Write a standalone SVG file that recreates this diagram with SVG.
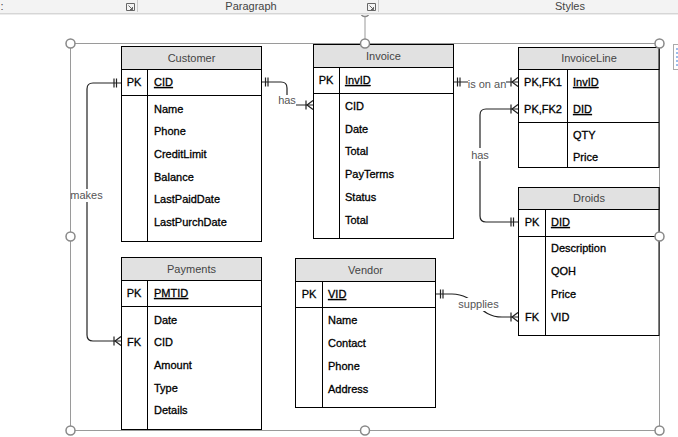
<svg xmlns="http://www.w3.org/2000/svg" width="678" height="437" viewBox="0 0 678 437">
<style>
.tb{fill:#fff;stroke:#000;stroke-width:1}
.hd{fill:#e1e1e1;stroke:#000;stroke-width:1}
.ln{stroke:#000;stroke-width:1;fill:none}
.ht{font-family:"Liberation Sans",Arial,sans-serif;font-size:11px;fill:#444;text-anchor:middle}
.ft{font-family:"Liberation Sans",Arial,sans-serif;font-size:11px;fill:#000;stroke:#000;stroke-width:0.3}
.kt{font-family:"Liberation Sans",Arial,sans-serif;font-size:11px;fill:#000;stroke:#000;stroke-width:0.3;text-anchor:middle}
.u{text-decoration:underline}
.cn{stroke:#222;stroke-width:1.2;fill:none}
.lb{font-family:"Liberation Sans",Arial,sans-serif;font-size:11px;fill:#555;text-anchor:middle}
.lbg{fill:#fff}
.hdl{fill:#fff;stroke:#888;stroke-width:1.5}
.frm{fill:none;stroke:#9a9a9a;stroke-width:1}
.tbt{font-family:"Liberation Sans",Arial,sans-serif;font-size:11px;fill:#444;text-anchor:middle}
</style>
<defs>
<marker id="one" markerUnits="userSpaceOnUse" markerWidth="20" markerHeight="20" viewBox="-10 -10 20 20" refX="0" refY="0" orient="auto-start-reverse">
<path d="M-7,-4.5V4.5M-4.5,-4.5V4.5" stroke="#222" stroke-width="1.2" fill="none"/>
</marker>
<marker id="many" markerUnits="userSpaceOnUse" markerWidth="20" markerHeight="20" viewBox="-10 -10 20 20" refX="0" refY="0" orient="auto-start-reverse">
<path d="M-7,-4.5V4.5M-6,0L0,-4.5M-6,0L0,4.5" stroke="#222" stroke-width="1.2" fill="none"/>
</marker>
</defs>
<rect width="678" height="437" fill="#fff"/>

<!-- selection frame -->
<g id="frame">
<rect class="frm" x="70.5" y="43.5" width="589" height="387"/>
<line x1="365" y1="17" x2="365" y2="39" stroke="#999" stroke-width="1"/>
<circle class="hdl" cx="365" cy="12" r="4.5"/>
</g>

<!-- toolbar -->
<g id="toolbar">
<rect x="0" y="0" width="678" height="14" fill="#f3f3f3"/>
<line x1="0" y1="13.5" x2="678" y2="13.5" stroke="#d6d6d6"/>
<line x1="0" y1="14.5" x2="678" y2="14.5" stroke="#ececec"/>
<text class="tbt" x="2" y="10">:</text>
<text class="tbt" x="251" y="10">Paragraph</text>
<text class="tbt" x="570" y="10">Styles</text>
<path d="M126.5,3.5h8v7h-8z M128.5,5.5l4,4 M132.5,7v2.5h-2.5" fill="none" stroke="#666" stroke-width="1"/>
<path d="M367.5,3.5h8v7h-8z M369.5,5.5l4,4 M373.5,7v2.5h-2.5" fill="none" stroke="#666" stroke-width="1"/>
<line x1="137.5" y1="0" x2="137.5" y2="12" stroke="#ccc"/>
<line x1="378.5" y1="0" x2="378.5" y2="12" stroke="#ccc"/>
</g>

<!-- side icon -->
<g id="layout-icon">
<rect x="673.5" y="44.5" width="12" height="25" fill="#fff" stroke="#aaa"/>
<path d="M676,49h3M676,53h3M676,57h3M676,61h3M676,65h3" stroke="#3a7bd5" stroke-width="1"/>
</g>

<!-- connectors -->
<g id="connectors">
<path class="cn" d="M121,83H93Q87,83 87,89V335Q87,341 93,341H121" marker-start="url(#one)" marker-end="url(#many)"/>
<rect class="lbg" x="71" y="189" width="31" height="13"/>
<text class="lb" x="86.5" y="199">makes</text>

<path class="cn" d="M261,82H281Q287,82 287,88V99Q287,105 293,105H313" marker-start="url(#one)" marker-end="url(#many)"/>
<rect class="lbg" x="278" y="95" width="18" height="11"/>
<text class="lb" x="287" y="104">has</text>

<path class="cn" d="M453,82H518" marker-start="url(#one)" marker-end="url(#many)"/>
<rect class="lbg" x="468" y="77" width="38" height="13"/>
<text class="lb" x="487" y="88">is on an</text>

<path class="cn" d="M518,109H486Q480,109 480,115V216Q480,222 486,222H518" marker-start="url(#many)" marker-end="url(#one)"/>
<rect class="lbg" x="470" y="148" width="20" height="13"/>
<text class="lb" x="480" y="159">has</text>

<path class="cn" d="M436,294H452C476,294 478,317 502,317H518" marker-start="url(#one)" marker-end="url(#many)"/>
<rect class="lbg" x="459" y="298" width="39" height="13"/>
<text class="lb" x="478.5" y="308">supplies</text>
</g>

<!-- Customer -->
<g id="customer">
<rect class="tb" x="121.5" y="46.5" width="140" height="195"/>
<rect class="hd" x="121.5" y="46.5" width="140" height="23"/>
<line class="ln" x1="121.5" y1="95.5" x2="261.5" y2="95.5"/>
<line class="ln" x1="147.5" y1="69.5" x2="147.5" y2="241.5"/>
<text class="ht" x="191.5" y="62">Customer</text>
<text class="kt" x="134" y="86">PK</text>
<text class="ft u" x="154" y="86">CID</text>
<text class="ft" x="154" y="113">Name</text>
<text class="ft" x="154" y="135">Phone</text>
<text class="ft" x="154" y="158">CreditLimit</text>
<text class="ft" x="154" y="181">Balance</text>
<text class="ft" x="154" y="203">LastPaidDate</text>
<text class="ft" x="154" y="226">LastPurchDate</text>
</g>

<!-- Invoice -->
<g id="invoice">
<rect class="tb" x="313.5" y="44.5" width="140" height="194"/>
<rect class="hd" x="313.5" y="44.5" width="140" height="23"/>
<line class="ln" x1="313.5" y1="93.5" x2="453.5" y2="93.5"/>
<line class="ln" x1="339.5" y1="67.5" x2="339.5" y2="238.5"/>
<text class="ht" x="383.5" y="60">Invoice</text>
<text class="kt" x="326" y="84">PK</text>
<text class="ft u" x="345" y="84">InvID</text>
<text class="ft" x="345" y="110">CID</text>
<text class="ft" x="345" y="133">Date</text>
<text class="ft" x="345" y="155">Total</text>
<text class="ft" x="345" y="178">PayTerms</text>
<text class="ft" x="345" y="201">Status</text>
<text class="ft" x="345" y="224">Total</text>
</g>

<!-- InvoiceLine -->
<g id="invoiceline">
<rect class="tb" x="518.5" y="47.5" width="140.5" height="120"/>
<rect class="hd" x="518.5" y="47.5" width="140.5" height="22"/>
<line class="ln" x1="518.5" y1="122.5" x2="659" y2="122.5"/>
<line class="ln" x1="567.5" y1="69.5" x2="567.5" y2="167.5"/>
<text class="ht" x="589" y="62">InvoiceLine</text>
<text class="kt" x="543" y="86">PK,FK1</text>
<text class="ft u" x="573" y="86">InvID</text>
<text class="kt" x="543" y="113">PK,FK2</text>
<text class="ft u" x="573" y="113">DID</text>
<text class="ft" x="573" y="139">QTY</text>
<text class="ft" x="573" y="161">Price</text>
</g>

<!-- Droids -->
<g id="droids">
<rect class="tb" x="518.5" y="187.5" width="140.5" height="148"/>
<rect class="hd" x="518.5" y="187.5" width="140.5" height="22"/>
<line class="ln" x1="518.5" y1="236.5" x2="659" y2="236.5"/>
<line class="ln" x1="545.5" y1="209.5" x2="545.5" y2="335.5"/>
<text class="ht" x="589" y="202">Droids</text>
<text class="kt" x="532" y="226">PK</text>
<text class="ft u" x="551" y="226">DID</text>
<text class="ft" x="551" y="252">Description</text>
<text class="ft" x="551" y="275">QOH</text>
<text class="ft" x="551" y="298">Price</text>
<text class="kt" x="532" y="321">FK</text>
<text class="ft" x="551" y="321">VID</text>
</g>

<!-- Payments -->
<g id="payments">
<rect class="tb" x="121.5" y="257.5" width="140" height="172"/>
<rect class="hd" x="121.5" y="257.5" width="140" height="23"/>
<line class="ln" x1="121.5" y1="306.5" x2="261.5" y2="306.5"/>
<line class="ln" x1="147.5" y1="280.5" x2="147.5" y2="429.5"/>
<text class="ht" x="191.5" y="273">Payments</text>
<text class="kt" x="134" y="297">PK</text>
<text class="ft u" x="154" y="297">PMTID</text>
<text class="ft" x="154" y="324">Date</text>
<text class="kt" x="134" y="346">FK</text>
<text class="ft" x="154" y="346">CID</text>
<text class="ft" x="154" y="369">Amount</text>
<text class="ft" x="154" y="392">Type</text>
<text class="ft" x="154" y="414">Details</text>
</g>

<!-- Vendor -->
<g id="vendor">
<rect class="tb" x="295.5" y="258.5" width="140" height="149"/>
<rect class="hd" x="295.5" y="258.5" width="140" height="23"/>
<line class="ln" x1="295.5" y1="307.5" x2="435.5" y2="307.5"/>
<line class="ln" x1="322.5" y1="281.5" x2="322.5" y2="407.5"/>
<text class="ht" x="365.5" y="274">Vendor</text>
<text class="kt" x="309" y="298">PK</text>
<text class="ft u" x="328" y="298">VID</text>
<text class="ft" x="328" y="324">Name</text>
<text class="ft" x="328" y="347">Contact</text>
<text class="ft" x="328" y="370">Phone</text>
<text class="ft" x="328" y="393">Address</text>
</g>

<!-- handles -->
<g id="handles">
<circle class="hdl" cx="70.5" cy="43.5" r="4.5"/>
<circle class="hdl" cx="365" cy="43.5" r="4.5"/>
<circle class="hdl" cx="659.5" cy="43.5" r="4.5"/>
<circle class="hdl" cx="70.5" cy="236.5" r="4.5"/>
<circle class="hdl" cx="659.5" cy="236.5" r="4.5"/>
<circle class="hdl" cx="70.5" cy="430.5" r="4.5"/>
<circle class="hdl" cx="365" cy="430.5" r="4.5"/>
<circle class="hdl" cx="659.5" cy="430.5" r="4.5"/>
</g>
</svg>
